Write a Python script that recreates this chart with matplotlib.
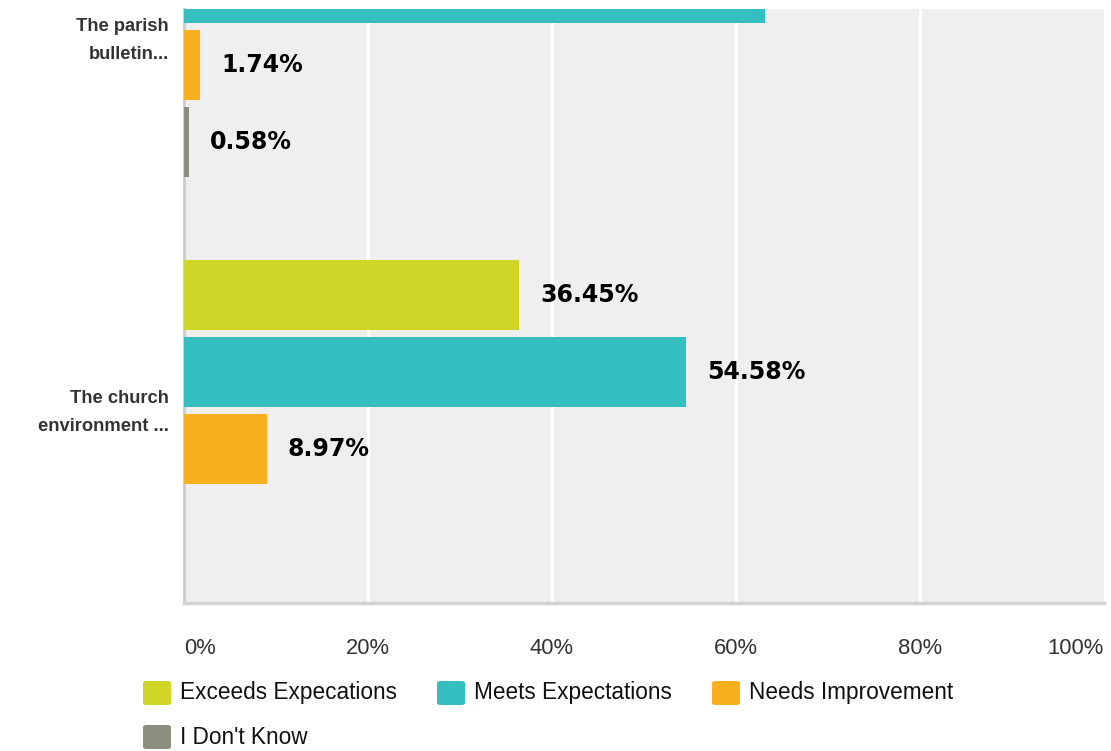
import numpy as np
import matplotlib
matplotlib.use("Agg")
import matplotlib.pyplot as plt
from matplotlib.patches import FancyBboxPatch

# categories (top to bottom) and answer options
categories = ["The parish\nbulletin...", "The church\nenvironment ..."]
series = ["Exceeds Expecations", "Meets Expectations", "Needs Improvement", "I Don't Know"]
colors = ["#D0D628", "#34BEBF", "#F8AF20", "#8C8F7D"]

# percentages per series, one value per category
exceeds = [34.53, 36.45]
meets = [63.15, 54.58]
needs = [1.74, 8.97]
dont_know = [0.58, 0.0]
values = [exceeds, meets, needs, dont_know]

xticks = [0, 20, 40, 60, 80, 100]
xtick_labels = ["0%", "20%", "40%", "60%", "80%", "100%"]

W, H = 1111, 751
fig = plt.figure(figsize=(W / 100, H / 100), dpi=100)
fig.patch.set_facecolor("white")

# plot area in pixels: x 184..1104, y 9..603
ax = fig.add_axes([184 / W, (H - 603) / H, 920 / W, (603 - 9) / H])
ax.set_facecolor("#EFEFEF")

pitch = 77 / 384
bar_h = 70 / 384
offsets = (np.arange(len(series)) - 1.5) * pitch
y = np.arange(len(categories))

for i, (name, vals, col) in enumerate(zip(series, values, colors)):
    pos = y + offsets[i]
    ax.barh(pos, vals, height=bar_h, color=col, zorder=3, label=name)
    for p, v in zip(pos, vals):
        if v <= 0:
            continue
        ax.annotate(f"{v:.2f}%", xy=(v, p), xytext=(21, 0), textcoords="offset pixels",
                    ha="left", va="center", fontsize=17, fontweight="bold",
                    family="DejaVu Sans", color="#000000", annotation_clip=True,
                    clip_on=True, zorder=4)

ax.set_xlim(0, 100)
ax.set_ylim((603 - 26.5) / 384, (9 - 26.5) / 384)

ax.set_xticks(xticks)
ax.set_xticklabels(xtick_labels)
ax.tick_params(axis="x", length=0, pad=25, labelsize=15.8, labelcolor="#333333")
for lab in ax.get_xticklabels():
    lab.set_family("Liberation Sans")
ax.get_xticklabels()[0].set_ha("left")
ax.get_xticklabels()[-1].set_ha("right")
ax.set_yticks([])

for gx in xticks[1:-1]:
    ax.axvline(gx, color="white", lw=2.2, zorder=1)

for s in ["top", "right"]:
    ax.spines[s].set_visible(False)
ax.spines["left"].set_color("#CCCCCC")
ax.spines["left"].set_linewidth(2)
ax.spines["bottom"].set_color("#D3D3D3")
ax.spines["bottom"].set_linewidth(2.5)

# category labels, first one nudged down so it stays inside the cropped view
nudge = [-14, -2]
for g, (cat, dy) in enumerate(zip(categories, nudge)):
    ax.annotate(cat, xy=(0, g), xycoords=("axes fraction", "data"),
                xytext=(-15, dy), textcoords="offset pixels",
                ha="right", va="center", fontsize=13.2, fontweight="bold",
                family="Liberation Sans", color="#333333", linespacing=1.85,
                annotation_clip=False)

# legend drawn by hand to match the layout
legend_pos = [(143, 681), (437, 681), (712, 681), (143, 725)]
for (px, py), name, col in zip(legend_pos, series, colors):
    box = FancyBboxPatch((px / W, 1 - (py + 24) / H), 28 / W, 24 / H,
                         boxstyle="round,pad=0,rounding_size=0.003",
                         transform=fig.transFigure, facecolor=col, edgecolor="none")
    fig.add_artist(box)
    fig.text((px + 37) / W, 1 - (py + 12) / H, name, ha="left", va="center",
             fontsize=16.3, family="Liberation Sans", color="#111111")

fig.savefig("out.png", dpi=100)
